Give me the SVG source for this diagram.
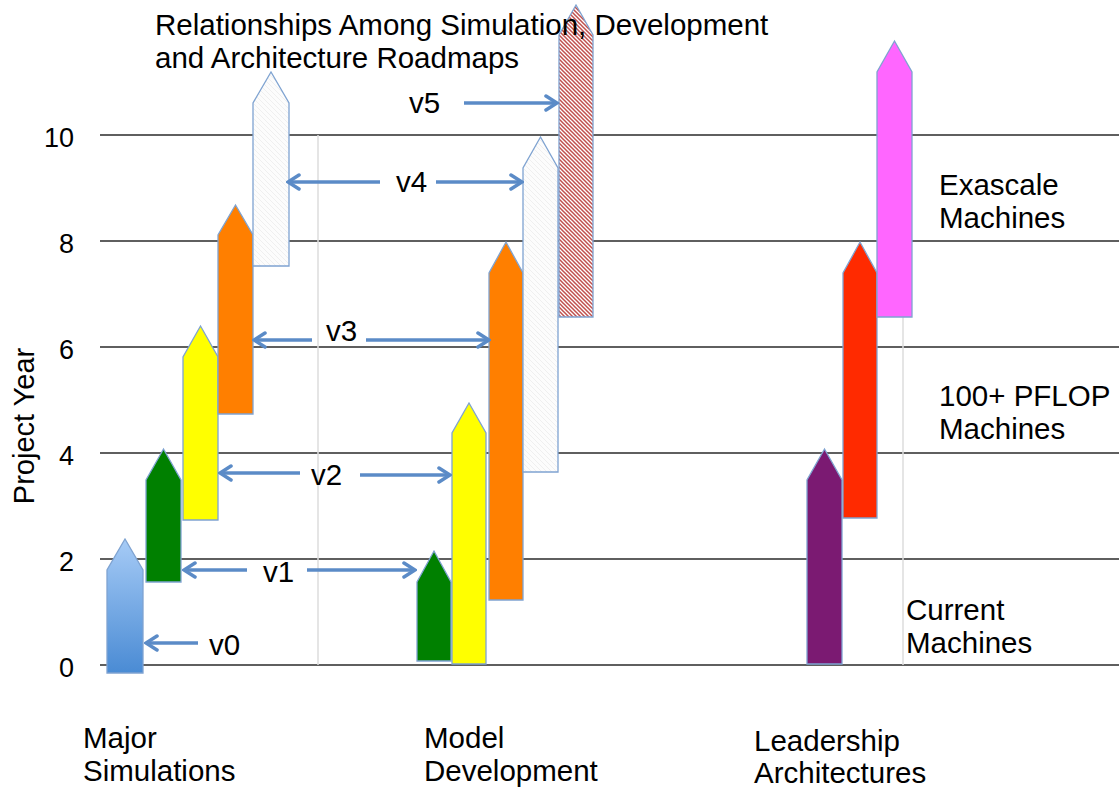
<svg xmlns="http://www.w3.org/2000/svg" width="1119" height="789" viewBox="0 0 1119 789">
<defs>
<linearGradient id="gBlue" x1="0" y1="0" x2="0" y2="1">
<stop offset="0" stop-color="#a6cbf6"/>
<stop offset="1" stop-color="#4a8bd4"/>
</linearGradient>
<pattern id="hRed" patternUnits="userSpaceOnUse" width="4" height="4">
<rect width="4" height="4" fill="#ffffff"/>
<path d="M-1,-1 L5,5 M-1,3 L1,5 M3,-1 L5,1" stroke="#c0504d" stroke-width="1.5"/>
</pattern>
<pattern id="hGray" patternUnits="userSpaceOnUse" width="5" height="5">
<rect width="5" height="5" fill="#fcfcfc"/>
<path d="M-1,-1 L6,6 M-1,4 L1,6 M4,-1 L6,1" stroke="#efefef" stroke-width="1"/>
</pattern>
<marker id="ah" viewBox="-14 -9 16 18" markerWidth="16" markerHeight="18" refX="0" refY="0" orient="auto-start-reverse" markerUnits="userSpaceOnUse">
<path d="M-11,-7 L0,0 L-11,7" fill="none" stroke="#5b8bc7" stroke-width="3.5" stroke-linecap="round" stroke-linejoin="miter"/>
</marker>
</defs>
<style>
text{font-family:"Liberation Sans",Arial,sans-serif;font-size:29.5px;fill:#000}
.ax{font-size:27px}
.grid{stroke:#2a2a2a;stroke-width:1.5}
.vl{stroke:#dcdcdc;stroke-width:1.5}
.sh{stroke:#7fa3d1;stroke-width:1.3}
.conn line{stroke:#5b8bc7;stroke-width:3.5;marker-end:url(#ah)}
</style>
<rect width="1119" height="789" fill="#ffffff"/>
<g id="grid">
<line class="grid" x1="100" y1="135" x2="1119" y2="135"/>
<line class="grid" x1="100" y1="241" x2="1119" y2="241"/>
<line class="grid" x1="100" y1="347" x2="1119" y2="347"/>
<line class="grid" x1="100" y1="453" x2="1119" y2="453"/>
<line class="grid" x1="100" y1="559" x2="1119" y2="559"/>
<line class="grid" x1="100" y1="665" x2="1119" y2="665"/>
<line class="vl" x1="318" y1="135" x2="318" y2="665"/>
<line class="vl" x1="903" y1="135" x2="903" y2="665"/>
</g>
<g id="axis">
<text class="ax" x="74" y="147" text-anchor="end">10</text>
<text class="ax" x="74" y="253" text-anchor="end">8</text>
<text class="ax" x="74" y="359" text-anchor="end">6</text>
<text class="ax" x="74" y="465" text-anchor="end">4</text>
<text class="ax" x="74" y="571" text-anchor="end">2</text>
<text class="ax" x="74" y="677" text-anchor="end">0</text>
<text style="font-size:29px" transform="translate(34,426) rotate(-90)" text-anchor="middle">Project Year</text>
</g>
<g id="sim-v0"><path class="sh" fill="url(#gBlue)" d="M107,673 L107,570 L125,539 L143,570 L143,673 Z"/></g>
<g id="sim-v1"><path class="sh" fill="#008000" d="M146,582 L146,480 L163.5,449 L181,480 L181,582 Z"/></g>
<g id="sim-v2"><path class="sh" fill="#ffff00" d="M183,520 L183,357 L200.5,326 L218,357 L218,520 Z"/></g>
<g id="sim-v3"><path class="sh" fill="#ff7f00" d="M218,414 L218,235 L235.5,205 L253,235 L253,414 Z"/></g>
<g id="sim-v4"><path class="sh" fill="url(#hGray)" d="M253,266 L253,103 L271,72 L289,103 L289,266 Z"/></g>
<g id="dev-v1"><path class="sh" fill="#008000" d="M417,661 L417,582 L434,551 L451,582 L451,661 Z"/></g>
<g id="dev-v2"><path class="sh" fill="#ffff00" d="M452,664 L452,433 L469,403 L486,433 L486,664 Z"/></g>
<g id="dev-v3"><path class="sh" fill="#ff7f00" d="M489,600 L489,273 L506,242 L523,273 L523,600 Z"/></g>
<g id="dev-v4"><path class="sh" fill="url(#hGray)" d="M523,472 L523,168 L540.5,137 L558,168 L558,472 Z"/></g>
<g id="dev-v5"><path class="sh" fill="url(#hRed)" d="M559,317 L559,35 L576,5 L593,35 L593,317 Z"/></g>
<g id="arch-current"><path class="sh" fill="#7b1a72" d="M807,664 L807,480 L824.5,449 L842,480 L842,664 Z"/></g>
<g id="arch-100pf"><path class="sh" fill="#ff2a00" d="M843,518 L843,273 L860,242 L877,273 L877,518 Z"/></g>
<g id="arch-exa"><path class="sh" fill="#ff66ff" d="M877,317 L877,72 L894.5,41 L912,72 L912,317 Z"/></g>
<g id="title">
<text x="155" y="35">Relationships Among Simulation, Development</text>
<text x="155" y="68">and Architecture Roadmaps</text>
</g>
<g id="connectors" class="conn">
<line x1="198" y1="643" x2="146" y2="643"/>
<line x1="247" y1="570" x2="184" y2="570"/>
<line x1="307" y1="570" x2="415" y2="570"/>
<line x1="300" y1="473" x2="220" y2="473"/>
<line x1="360" y1="475" x2="450" y2="475"/>
<line x1="312" y1="340" x2="254" y2="340"/>
<line x1="366" y1="340" x2="489" y2="340"/>
<line x1="380" y1="182" x2="288" y2="182"/>
<line x1="436" y1="182" x2="522" y2="182"/>
<line x1="464" y1="103" x2="557" y2="103"/>
</g>
<g id="labels">
<text x="209" y="655">v0</text>
<text x="263" y="582">v1</text>
<text x="311" y="485">v2</text>
<text x="326" y="341">v3</text>
<text x="396" y="192">v4</text>
<text x="409" y="113">v5</text>
<text x="939" y="195">Exascale</text>
<text x="939" y="228">Machines</text>
<text x="939" y="406">100+ PFLOP</text>
<text x="939" y="439">Machines</text>
<text x="906" y="620">Current</text>
<text x="906" y="653">Machines</text>
<text x="83" y="748">Major</text>
<text x="83" y="781">Simulations</text>
<text x="424" y="748">Model</text>
<text x="424" y="781">Development</text>
<text x="754" y="751">Leadership</text>
<text x="754" y="783">Architectures</text>
</g>
</svg>
